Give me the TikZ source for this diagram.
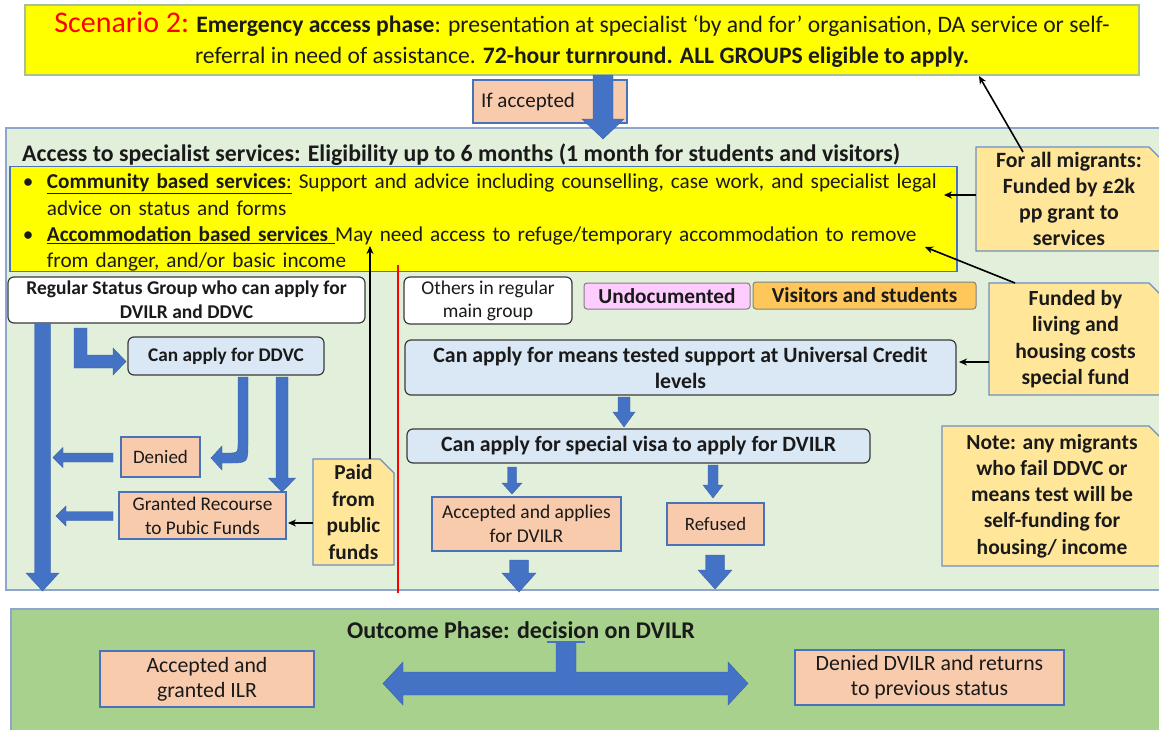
\documentclass[tikz,border=0pt]{standalone}
\usepackage{fontspec}
\setmainfont{Carlito}
\usetikzlibrary{calc,arrows.meta}
\definecolor{topyel}{HTML}{FFFF00}
\definecolor{topbord}{HTML}{A6C28F}
\definecolor{mainfill}{HTML}{E2EFDA}
\definecolor{mainbord}{HTML}{8EA6CC}
\definecolor{outfill}{HTML}{A9D18E}
\definecolor{bordblue}{HTML}{4A72B8}
\definecolor{notefill}{HTML}{FFE699}
\definecolor{notebord}{HTML}{6F8FC0}
\definecolor{peach}{HTML}{F8CBAD}
\definecolor{lblue}{HTML}{DAE7F5}
\definecolor{dkbord}{HTML}{3A3A3A}
\definecolor{pinkc}{HTML}{FFCCFF}
\definecolor{orangec}{HTML}{FFC659}
\definecolor{arrblue}{HTML}{4472C4}
\definecolor{txt}{HTML}{1A1A1A}
\newcommand{\fs}[2]{\fontsize{#1}{#2}\selectfont}
\newcommand{\bx}[7]{%
  \pgfmathsetmacro{\bxw}{#5-#3}%
  \pgfmathsetmacro{\bxh}{#6-#4}%
  \pgfmathsetmacro{\bxx}{(#3+#5)/2}%
  \pgfmathsetmacro{\bxy}{(#4+#6)/2}%
  \node[#2, minimum width=\bxw pt, minimum height=\bxh pt] (#1) at (\bxx,\bxy) {#7};}
\newcommand{\notebox}[8]{%
  \filldraw[notestyle] (#2,#3) -- ({#4-#6},#3) -- (#4,{#3+#6}) -- (#4,#5) -- (#2,#5) -- cycle;
  \bx{#1}{base,font=#7}{#2}{#3}{#4}{#5}{#8}}
\newcommand{\downblk}[6]{%
  \filldraw[blockarrow] ({#1-#5},#2) -- ({#1+#5},#2) -- ({#1+#5},#3) -- ({#1+#6},#3) -- (#1,#4) -- ({#1-#6},#3) -- ({#1-#5},#3) -- cycle;}
\newcommand{\leftblk}[6]{%
  \filldraw[blockarrow] (#2,{#1-#5}) -- (#2,{#1+#5}) -- (#3,{#1+#5}) -- (#3,{#1+#6}) -- (#4,#1) -- (#3,{#1-#6}) -- (#3,{#1-#5}) -- cycle;}
\tikzset{
  base/.style={inner sep=0pt, align=center, text=txt},
  notestyle/.style={fill=notefill, draw=notebord, line width=1.2pt},
  peachbox/.style={base, fill=peach, draw=bordblue, line width=1.2pt},
  bluebox/.style={base, fill=lblue, draw=dkbord, line width=1.2pt, rounded corners=6pt},
  whitebox/.style={base, fill=white, draw=dkbord, line width=1.2pt, rounded corners=6pt},
  blockarrow/.style={fill=arrblue, draw=arrblue!85!black, line width=0.4pt},
  thinarrow/.style={draw=black, line width=1.6pt, -{Stealth[length=8pt,width=7pt]}},
}
\begin{document}
\begin{tikzpicture}[x=1pt,y=-1pt]
\useasboundingbox (0,0) rectangle (1159,729);
\fill[white] (0,0) rectangle (1159,729);

% top box
\bx{top}{base, fill=topyel, draw=topbord, line width=1.5pt, font=\fs{23.6}{31}}{25}{5}{1139}{75}{%
{\color{red}\fontsize{30}{31}\selectfont Scenario 2:} \textbf{Emergency access phase}: presentation at specialist ‘by and for’ organisation, DA service or self-\\
referral in need of assistance. \textbf{72-hour turnround. ALL GROUPS eligible to apply.}}

% if accepted
\bx{ifacc}{peachbox, font=\fs{21}{23}}{473}{80}{627}{123}{If accepted\hspace*{44pt}}

% main box
\bx{main}{base, fill=mainfill, draw=mainbord, line width=1.8pt}{6}{128}{1175}{590}{}
\node[base, anchor=west, font=\bfseries\fs{23.8}{26}] (title) at (22,155) {Access to specialist services: Eligibility up to 6 months (1 month for students and visitors)};

% services box
\bx{serv}{base, fill=topyel, draw=bordblue, line width=1.2pt, align=left, inner xsep=13pt, text width=921pt, font=\fs{21.2}{26.2}}{10}{170}{957}{268}{%
\mbox{\rule{0pt}{22pt}\makebox[24pt][l]{\textbullet}\underline{\textbf{Community based services}:} Support and advice including counselling, case work, and specialist legal}\\
\mbox{\hspace*{24pt}advice on status and forms}\\
\mbox{\makebox[24pt][l]{\textbullet}\underline{\textbf{Accommodation based services} }May need access to refuge/temporary accommodation to remove}\\
\mbox{\hspace*{24pt}from danger, and/or basic income}}

% notes
\notebox{note1}{976}{147}{1162}{251}{13}{\bfseries\fs{21.8}{26}}{For all migrants:\\Funded by £2k\\pp grant to\\services}
\notebox{note2}{989}{283}{1162}{395}{13}{\bfseries\fs{21.6}{26.5}}{Funded by\\living and\\housing costs\\special fund}
\notebox{note3}{942}{426}{1162}{566}{13}{\bfseries\fs{21.5}{26.2}}{Note: any migrants\\who fail DDVC or\\means test will be\\self-funding for\\housing/ income}
\notebox{paid}{313}{459}{394}{565}{14}{\bfseries\fs{21.3}{26.5}}{Paid\\from\\public\\funds}

% left column
\bx{reg}{whitebox, font=\bfseries\fs{19.5}{24}}{8}{277}{365}{323}{Regular Status Group who can apply for\\DVILR and DDVC}
\bx{ddvc}{bluebox, font=\bfseries\fs{19.3}{22}}{128}{337}{324}{375}{Can apply for DDVC}
\bx{denied}{peachbox, font=\fs{19}{22}}{121}{437}{200}{477}{Denied}
\bx{granted}{peachbox, font=\fs{19.3}{24}}{119}{492}{286}{539}{Granted Recourse\\to Pubic Funds}

% right column
\bx{others}{whitebox, font=\fs{19.5}{23}}{404}{277}{572}{324}{Others in regular\\main group}
\bx{undoc}{base, fill=pinkc, draw=gray, line width=1pt, rounded corners=3pt, font=\bfseries\fs{21.3}{22}}{584}{283}{750}{309}{Undocumented}
\bx{visit}{base, fill=orangec, draw=gray, line width=1pt, rounded corners=3pt, font=\bfseries\fs{21.3}{22}}{753}{282}{976}{309}{Visitors and students}
\bx{uc}{bluebox, font=\bfseries\fs{21.8}{26}}{405}{340}{956}{395}{Can apply for means tested support at Universal Credit\\levels}
\bx{visa}{bluebox, font=\bfseries\fs{21.8}{22}}{407}{429}{870}{463}{Can apply for special visa to apply for DVILR}
\bx{acc}{peachbox, font=\fs{19.5}{24}}{432}{497}{621}{551}{Accepted and applies\\for DVILR}
\bx{ref}{peachbox, font=\fs{18.8}{22}}{667}{503}{764}{545}{Refused}

% red divider
\draw[red, line width=2.5pt] (398,265) -- (398,593);

% block arrows in main box
\downblk{42.5}{323}{573}{591}{8}{16.5}
\filldraw[blockarrow] (74,328) -- (87,328) -- (87,355) -- (113,355) -- (113,348) -- (126,361.5) -- (113,375) -- (113,368) -- (74,368) -- cycle;
\filldraw[blockarrow] (238,377) -- (248,377) -- (248,443) .. controls (248,463) .. (228,463) -- (222,463) -- (222,470) -- (211,458) -- (222,446) -- (222,453) -- (228,453) .. controls (238,453) .. (238,443) -- cycle;
\downblk{282}{377}{478}{492}{6}{13.5}
\leftblk{457.5}{113}{63}{53}{4.5}{10}
\leftblk{516}{113}{66}{56}{4.5}{10}
\downblk{624}{397}{412}{427}{6}{11}
\downblk{512}{467}{483}{494}{4.5}{10}
\downblk{713}{465}{485}{498}{5}{10}
\downblk{519}{560}{573}{592}{9.5}{17}
\downblk{715}{555}{570}{589}{9.5}{17}

% if accepted arrow
\downblk{603}{75}{119}{139}{10}{21}

% thin arrows
\coordinate (n1a) at (1023,152);
\coordinate (t1) at (979,76);
\coordinate (n1b) at (976,195);
\coordinate (s1) at (944,195);
\coordinate (n2a) at (1015,283);
\coordinate (s2) at (925,247);
\coordinate (n2b) at (989,362);
\coordinate (u1) at (959,362);
\coordinate (p1) at (313,523);
\coordinate (g1) at (288,523);
\coordinate (p2) at (370,459);
\coordinate (s3) at (370,246);
\draw[thinarrow] (n1a) -- (t1);
\draw[thinarrow] (n1b) -- (s1);
\draw[thinarrow] (n2a) -- (s2);
\draw[thinarrow] (n2b) -- (u1);
\draw[thinarrow] (p1) -- (g1);
\draw[thinarrow] (p2) -- (s3);

% outcome phase
\bx{out}{base, fill=outfill, draw=mainbord, line width=1.8pt}{11}{609}{1175}{745}{}
\node[base, font=\bfseries\fs{24}{26}] (outtitle) at (521,630) {Outcome Phase: decision on DVILR};
\bx{ilr}{peachbox, font=\fs{21.8}{25}}{100}{651}{314}{707}{Accepted and\\granted ILR}
\bx{den}{peachbox, font=\fs{21.8}{25}}{795}{650}{1064}{705}{Denied DVILR and returns\\to previous status}
\filldraw[blockarrow] (383,683.5) -- (403,662) -- (403,672) -- (556,672) -- (556,642) -- (576,642) -- (576,672) -- (728,672) -- (728,662) -- (748,683.5) -- (728,705) -- (728,695) -- (403,695) -- (403,705) -- cycle;
\draw[arrblue, line width=2pt] (547,642) -- (585,642);
\end{tikzpicture}
\end{document}
